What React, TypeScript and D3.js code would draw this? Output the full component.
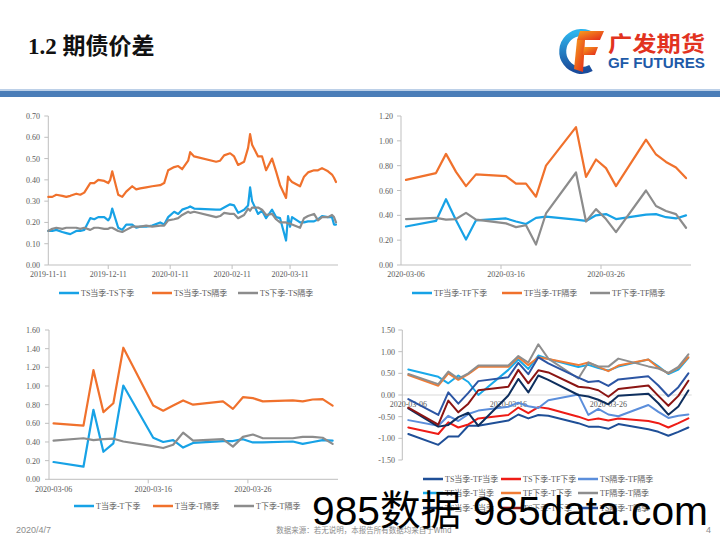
import React from "react";
import * as d3 from "d3";

// ---------- data ----------
const tsDates = ["2019-11-11","2019-11-13","2019-11-15","2019-11-18","2019-11-20","2019-11-22","2019-11-25","2019-11-27","2019-11-29",
"2019-12-02","2019-12-04","2019-12-06","2019-12-09","2019-12-11","2019-12-12","2019-12-13","2019-12-16","2019-12-18","2019-12-20","2019-12-23","2019-12-25","2019-12-27","2019-12-30",
"2020-01-02","2020-01-06","2020-01-08","2020-01-10","2020-01-13","2020-01-15","2020-01-17","2020-01-20","2020-01-21","2020-01-23",
"2020-02-03","2020-02-05","2020-02-07","2020-02-10","2020-02-12","2020-02-14","2020-02-17","2020-02-19","2020-02-20","2020-02-21","2020-02-24","2020-02-26","2020-02-28",
"2020-03-02","2020-03-04","2020-03-06","2020-03-09","2020-03-10","2020-03-11","2020-03-12","2020-03-16","2020-03-18","2020-03-20","2020-03-23","2020-03-25","2020-03-27","2020-03-30",
"2020-04-01","2020-04-02","2020-04-03"];
const tsCurNext = [0.16,0.16,0.165,0.155,0.15,0.145,0.16,0.16,0.165,
0.22,0.215,0.225,0.225,0.21,0.225,0.265,0.175,0.165,0.19,0.19,0.175,0.18,0.18,
0.185,0.2,0.19,0.225,0.25,0.24,0.26,0.27,0.275,0.265,
0.26,0.26,0.27,0.285,0.28,0.245,0.26,0.28,0.365,0.3,0.24,0.255,0.22,
0.26,0.225,0.22,0.115,0.23,0.18,0.225,0.2,0.2,0.205,0.205,0.215,0.23,0.225,
0.225,0.19,0.19];
const tsCurFar = [0.32,0.32,0.33,0.325,0.32,0.325,0.335,0.33,0.34,
0.385,0.385,0.4,0.395,0.385,0.4,0.44,0.33,0.32,0.345,0.37,0.355,0.36,0.365,
0.37,0.375,0.385,0.445,0.46,0.465,0.45,0.49,0.53,0.51,
0.485,0.49,0.515,0.525,0.51,0.47,0.485,0.55,0.615,0.565,0.51,0.51,0.445,
0.5,0.44,0.375,0.315,0.415,0.4,0.39,0.37,0.415,0.435,0.445,0.445,0.455,0.44,
0.425,0.41,0.39];
const tsNextFar = [0.16,0.17,0.175,0.17,0.175,0.175,0.175,0.17,0.175,
0.165,0.175,0.175,0.17,0.17,0.175,0.175,0.16,0.155,0.165,0.18,0.18,0.18,0.185,
0.18,0.185,0.185,0.21,0.215,0.22,0.235,0.25,0.245,0.25,
0.225,0.23,0.245,0.24,0.24,0.22,0.235,0.265,0.255,0.27,0.27,0.26,0.235,
0.24,0.215,0.2,0.2,0.195,0.195,0.19,0.175,0.22,0.23,0.24,0.21,0.225,0.225,
0.235,0.225,0.2];

const mDates = ["2020-03-06","2020-03-09","2020-03-10","2020-03-11","2020-03-12","2020-03-13","2020-03-16","2020-03-17","2020-03-18","2020-03-19","2020-03-20",
"2020-03-23","2020-03-24","2020-03-25","2020-03-26","2020-03-27","2020-03-30","2020-03-31","2020-04-01","2020-04-02","2020-04-03"];

const tfCurNext = [0.31,0.355,0.53,0.36,0.205,0.36,0.375,0.35,0.33,0.38,0.39,0.365,0.355,0.4,0.41,0.37,0.405,0.41,0.385,0.375,0.4];
const tfCurFar = [0.685,0.74,0.895,0.75,0.635,0.73,0.715,0.655,0.655,0.55,0.8,1.11,0.71,0.85,0.78,0.635,1.01,0.89,0.83,0.785,0.7];
const tfNextFar = [0.37,0.38,0.365,0.37,0.42,0.365,0.335,0.305,0.32,0.165,0.415,0.745,0.35,0.45,0.37,0.265,0.6,0.475,0.435,0.41,0.3];

const tCurNext = [0.185,0.135,0.745,0.295,0.385,1.005,0.445,0.4,0.42,0.34,0.39,0.41,0.41,0.43,0.395,0.395,0.405,0.38,0.4,0.42,0.415];
const tCurFar = [0.6,0.575,1.17,0.72,0.815,1.41,0.79,0.735,0.79,0.845,0.8,0.835,0.755,0.88,0.87,0.835,0.845,0.835,0.855,0.86,0.79];
const tNextFar = [0.415,0.44,0.42,0.43,0.435,0.405,0.355,0.335,0.37,0.5,0.415,0.43,0.35,0.455,0.48,0.44,0.44,0.455,0.455,0.445,0.38];

const tsTfCur = [-0.9,-1.15,-0.96,-0.96,-0.71,-0.71,-0.59,-0.45,-0.54,-0.46,-0.48,-0.65,-0.73,-0.73,-0.78,-0.67,-0.79,-0.85,-0.94,-0.85,-0.75];
const tsTfNext = [-0.75,-0.9,-0.63,-0.75,-0.68,-0.54,-0.46,-0.29,-0.42,-0.28,-0.31,-0.5,-0.58,-0.54,-0.59,-0.54,-0.6,-0.65,-0.75,-0.65,-0.54];
const tsTfFar = [-0.58,-0.71,-0.48,-0.6,-0.44,-0.36,-0.27,-0.18,-0.26,-0.3,-0.12,0.01,-0.46,-0.32,-0.45,-0.49,-0.23,-0.39,-0.53,-0.48,-0.45];
const tfTCur = [0.59,0.42,0.27,0.45,0.3,0.0,0.58,0.82,0.6,0.91,0.83,0.645,0.695,0.62,0.565,0.655,0.82,0.66,0.485,0.585,0.855];
const tfTNext = [0.46,0.215,0.5,0.35,0.48,0.65,0.65,0.87,0.69,0.87,0.83,0.69,0.75,0.65,0.55,0.68,0.82,0.63,0.5,0.63,0.87];
const tfTFar = [0.485,0.25,0.54,0.38,0.5,0.68,0.68,0.9,0.75,1.17,0.84,0.38,0.75,0.66,0.655,0.84,0.66,0.61,0.51,0.65,0.94];
const tsTCur = [-0.31,-0.73,-0.69,-0.51,-0.41,-0.71,-0.01,0.37,0.06,0.45,0.35,0.0,-0.035,-0.11,-0.215,-0.015,0.03,-0.19,-0.455,-0.265,0.105];
const tsTNext = [-0.29,-0.685,-0.13,-0.4,-0.2,0.11,0.19,0.58,0.27,0.57,0.52,0.19,0.17,0.11,-0.04,0.14,0.22,-0.02,-0.25,-0.02,0.33];
const tsTFar = [-0.095,-0.46,0.06,-0.2,0.05,0.32,0.41,0.74,0.48,0.87,0.73,0.4,0.3,0.325,0.21,0.36,0.43,0.22,-0.03,0.18,0.5];

const chart1Labels = ["2019-11-11","2019-12-11","2020-01-11","2020-02-11","2020-03-11"];
const monthLabels = ["2020-03-06","2020-03-16","2020-03-26"];
const ticks1 = [0,0.1,0.2,0.3,0.4,0.5,0.6,0.7];
const ticks2 = [0,0.2,0.4,0.6,0.8,1.0,1.2];
const ticks3 = [0,0.2,0.4,0.6,0.8,1.0,1.2,1.4,1.6];
const ticks4 = [-1.5,-1,-0.5,0,0.5,1,1.5];

// ---------- style ----------
const BLUE = "#17A2E6";
const ORANGE = "#F0712C";
const GRAY = "#8C8C8C";
const AXIS = "#BFBFBF";
const TXT = "#595959";
const SERIF = "'Liberation Serif','Times New Roman','Noto Sans CJK SC',serif";
const LEG = "'Liberation Serif','Noto Sans CJK SC',serif";

const parse = d3.timeParse("%Y-%m-%d");

type S = { name: string; values: number[]; color: string };

function LineChart(p: {
  dates: string[]; series: S[]; left: number; right: number; top: number; bottom: number;
  xDomain: [Date, Date]; yDomain: [number, number]; yTicks: number[]; yLabelX: number;
  xLabels: string[]; tickMarks: Date[]; labelBase: number; xAxisAt?: number; sw: number;
}) {
  const x = d3.scaleTime().domain(p.xDomain).range([p.left, p.right]);
  const y = d3.scaleLinear().domain(p.yDomain).range([p.bottom, p.top]);
  const dts = p.dates.map((d) => parse(d) as Date);
  const axisY = p.xAxisAt !== undefined ? y(p.xAxisAt) : p.bottom;
  const gen = d3.line<number>().x((_, i) => x(dts[i])).y((v) => y(v));
  return (
    <g>
      <line x1={p.left} x2={p.right} y1={axisY} y2={axisY} stroke={p.xAxisAt !== undefined ? "#D9D9D9" : AXIS} strokeWidth={1} />
      <line x1={p.left} x2={p.left} y1={p.top} y2={p.bottom} stroke={AXIS} strokeWidth={1} />
      {p.yTicks.map((t) => (
        <g key={t}>
          <line x1={p.left - 4} x2={p.left} y1={y(t)} y2={y(t)} stroke={AXIS} />
          <text x={p.yLabelX} y={y(t) + 3} textAnchor="end" fontSize={8} fontFamily={SERIF} fill={TXT}>{t.toFixed(2)}</text>
        </g>
      ))}
      {p.tickMarks.map((d, i) => (
        <line key={i} x1={x(d)} x2={x(d)} y1={axisY} y2={axisY + 4} stroke={AXIS} />
      ))}
      {p.xLabels.map((l) => (
        <text key={l} x={x(parse(l) as Date)} y={p.labelBase} textAnchor="middle" fontSize={8} fontFamily={SERIF} fill={TXT}>{l}</text>
      ))}
      {p.series.map((s) => (
        <path key={s.name} d={gen(s.values) || ""} fill="none" stroke={s.color} strokeWidth={p.sw} strokeLinejoin="round" strokeLinecap="round" />
      ))}
    </g>
  );
}

function Legend({ items }: { items: { name: string; color: string; x: number; y: number }[] }) {
  return (
    <g>
      {items.map((it) => (
        <g key={it.name}>
          <line x1={it.x} x2={it.x + 20} y1={it.y} y2={it.y} stroke={it.color} strokeWidth={2.5} />
          <text x={it.x + 22} y={it.y + 3} fontSize={8} fontFamily={LEG} fill={TXT}>{it.name}</text>
        </g>
      ))}
    </g>
  );
}

export default function App() {
  const c1: S[] = [
    { name: "TS当季-TS下季", values: tsCurNext, color: BLUE },
    { name: "TS当季-TS隔季", values: tsCurFar, color: ORANGE },
    { name: "TS下季-TS隔季", values: tsNextFar, color: GRAY },
  ];
  const c2: S[] = [
    { name: "TF当季-TF下季", values: tfCurNext, color: BLUE },
    { name: "TF当季-TF隔季", values: tfCurFar, color: ORANGE },
    { name: "TF下季-TF隔季", values: tfNextFar, color: GRAY },
  ];
  const c3: S[] = [
    { name: "T当季-T下季", values: tCurNext, color: BLUE },
    { name: "T当季-T隔季", values: tCurFar, color: ORANGE },
    { name: "T下季-T隔季", values: tNextFar, color: GRAY },
  ];
  const c4: S[] = [
    { name: "TS当季-TF当季", values: tsTfCur, color: "#1F4F97" },
    { name: "TS下季-TF下季", values: tsTfNext, color: "#EE1C16" },
    { name: "TS隔季-TF隔季", values: tsTfFar, color: "#5B8EDB" },
    { name: "TF当季-T当季", values: tfTCur, color: "#18A9EA" },
    { name: "TF下季-T下季", values: tfTNext, color: "#F07C35" },
    { name: "TF隔季-T隔季", values: tfTFar, color: "#8E8E8E" },
    { name: "TS当季-T当季", values: tsTCur, color: "#0E2F5E" },
    { name: "TS下季-T下季", values: tsTNext, color: "#8B1513" },
    { name: "TS隔季-T隔季", values: tsTFar, color: "#2C55A3" },
  ];
  const leg4Cols = [423, 501, 578];
  const leg4Rows = [479, 493, 508];

  return (
    <svg width={720} height={540} style={{ position: "absolute", left: 0, top: 0, background: "#fff" }}>
      <defs>
        <linearGradient id="gBlue" x1="0" y1="0" x2="0" y2="1">
          <stop offset="0" stopColor="#2DB3EC" />
          <stop offset="1" stopColor="#1B4C9B" />
        </linearGradient>
        <linearGradient id="gRed" x1="0" y1="0" x2="1" y2="1">
          <stop offset="0" stopColor="#F7A01E" />
          <stop offset="1" stopColor="#E3261B" />
        </linearGradient>
      </defs>
      <rect x={0} y={0} width={720} height={540} fill="#fff" />

      {/* header */}
      <text x={28} y={54} fontSize={23} fontWeight="bold" fontFamily={SERIF} fill="#111">1.2 期债价差</text>
      <path d="M 593.5 36.5 A 19 19 0 1 0 591 68" fill="none" stroke="url(#gBlue)" strokeWidth={7} />
      <polygon points="580,31 604,31 600,40 577,40" fill="url(#gRed)" />
      <polygon points="577,40 585,40 583,72 574,69" fill="url(#gRed)" />
      <polygon points="584,47 598,47 595,55 583,55" fill="url(#gRed)" />
      <text x={608} y={51} fontSize={21} fontWeight="bold" fontFamily="'Noto Sans CJK SC',sans-serif" fill="#E2331F" textLength={97} lengthAdjust="spacingAndGlyphs">广发期货</text>
      <text x={608} y={68} fontSize={14} fontWeight="bold" fontFamily="'Liberation Sans',Arial,sans-serif" fill="#1E5AA8" textLength={97} lengthAdjust="spacingAndGlyphs">GF FUTURES</text>
      <rect x={0} y={89} width={720} height={2} fill="#BCD0E8" />
      <rect x={0} y={91} width={720} height={6} fill="#4A7DB8" />

      {/* chart 1 */}
      <LineChart dates={tsDates} series={c1} left={48.3} right={338} top={116} bottom={265}
        xDomain={[new Date(2019, 10, 11), new Date(2020, 3, 4)]} yDomain={[0, 0.7]} yTicks={ticks1} yLabelX={40}
        xLabels={chart1Labels} tickMarks={chart1Labels.slice(1).map((d) => parse(d) as Date)} labelBase={277} sw={2.2} />
      <Legend items={[
        { name: c1[0].name, color: BLUE, x: 59, y: 293 },
        { name: c1[1].name, color: ORANGE, x: 152, y: 293 },
        { name: c1[2].name, color: GRAY, x: 238, y: 293 },
      ]} />

      {/* chart 2 */}
      <LineChart dates={mDates} series={c2} left={401} right={691} top={116} bottom={265}
        xDomain={[new Date(2020, 2, 5, 12), new Date(2020, 3, 3, 12)]} yDomain={[0, 1.2]} yTicks={ticks2} yLabelX={393}
        xLabels={monthLabels} tickMarks={[new Date(2020, 2, 15, 12), new Date(2020, 2, 25, 12)]} labelBase={277} sw={2.2} />
      <Legend items={[
        { name: c2[0].name, color: BLUE, x: 412, y: 293 },
        { name: c2[1].name, color: ORANGE, x: 502, y: 293 },
        { name: c2[2].name, color: GRAY, x: 590, y: 293 },
      ]} />

      {/* chart 3 */}
      <LineChart dates={mDates} series={c3} left={49} right={338} top={330} bottom={479.3}
        xDomain={[new Date(2020, 2, 5, 13), new Date(2020, 3, 3, 13)]} yDomain={[0, 1.6]} yTicks={ticks3} yLabelX={40}
        xLabels={monthLabels} tickMarks={[new Date(2020, 2, 15, 12), new Date(2020, 2, 25, 12)]} labelBase={492} sw={2.2} />
      <Legend items={[
        { name: c3[0].name, color: BLUE, x: 74, y: 506 },
        { name: c3[1].name, color: ORANGE, x: 153, y: 506 },
        { name: c3[2].name, color: GRAY, x: 234, y: 506 },
      ]} />

      {/* chart 4 */}
      <LineChart dates={mDates} series={c4} left={402.3} right={691.7} top={330} bottom={460}
        xDomain={[new Date(2020, 2, 5, 9, 36), new Date(2020, 3, 3, 8)]} yDomain={[-1.5, 1.5]} yTicks={ticks4} yLabelX={395}
        xLabels={monthLabels} tickMarks={[]} labelBase={407} xAxisAt={0} sw={2} />
      <Legend items={c4.map((s, i) => ({ name: s.name, color: s.color, x: leg4Cols[i % 3], y: leg4Rows[Math.floor(i / 3)] }))} />

      {/* footer */}
      <text x={16} y={533} fontSize={9} fontFamily="'Liberation Sans',sans-serif" fill="#8C8C8C">2020/4/7</text>
      <text x={364} y={533} fontSize={7.5} textAnchor="middle" fontFamily="'Noto Sans CJK SC',sans-serif" fill="#8C8C8C">数据来源：若无说明，本报告所有数据均来自于Wind</text>
      <text x={711} y={533} fontSize={9} textAnchor="end" fontFamily="'Liberation Sans',sans-serif" fill="#8C8C8C">4</text>

      {/* watermark */}
      <text x={312} y={525} fontSize={41} fontFamily="'Liberation Sans','Noto Sans CJK SC',sans-serif" fill="#000" textLength={396} lengthAdjust="spacingAndGlyphs">985数据 985data.com</text>
    </svg>
  );
}
